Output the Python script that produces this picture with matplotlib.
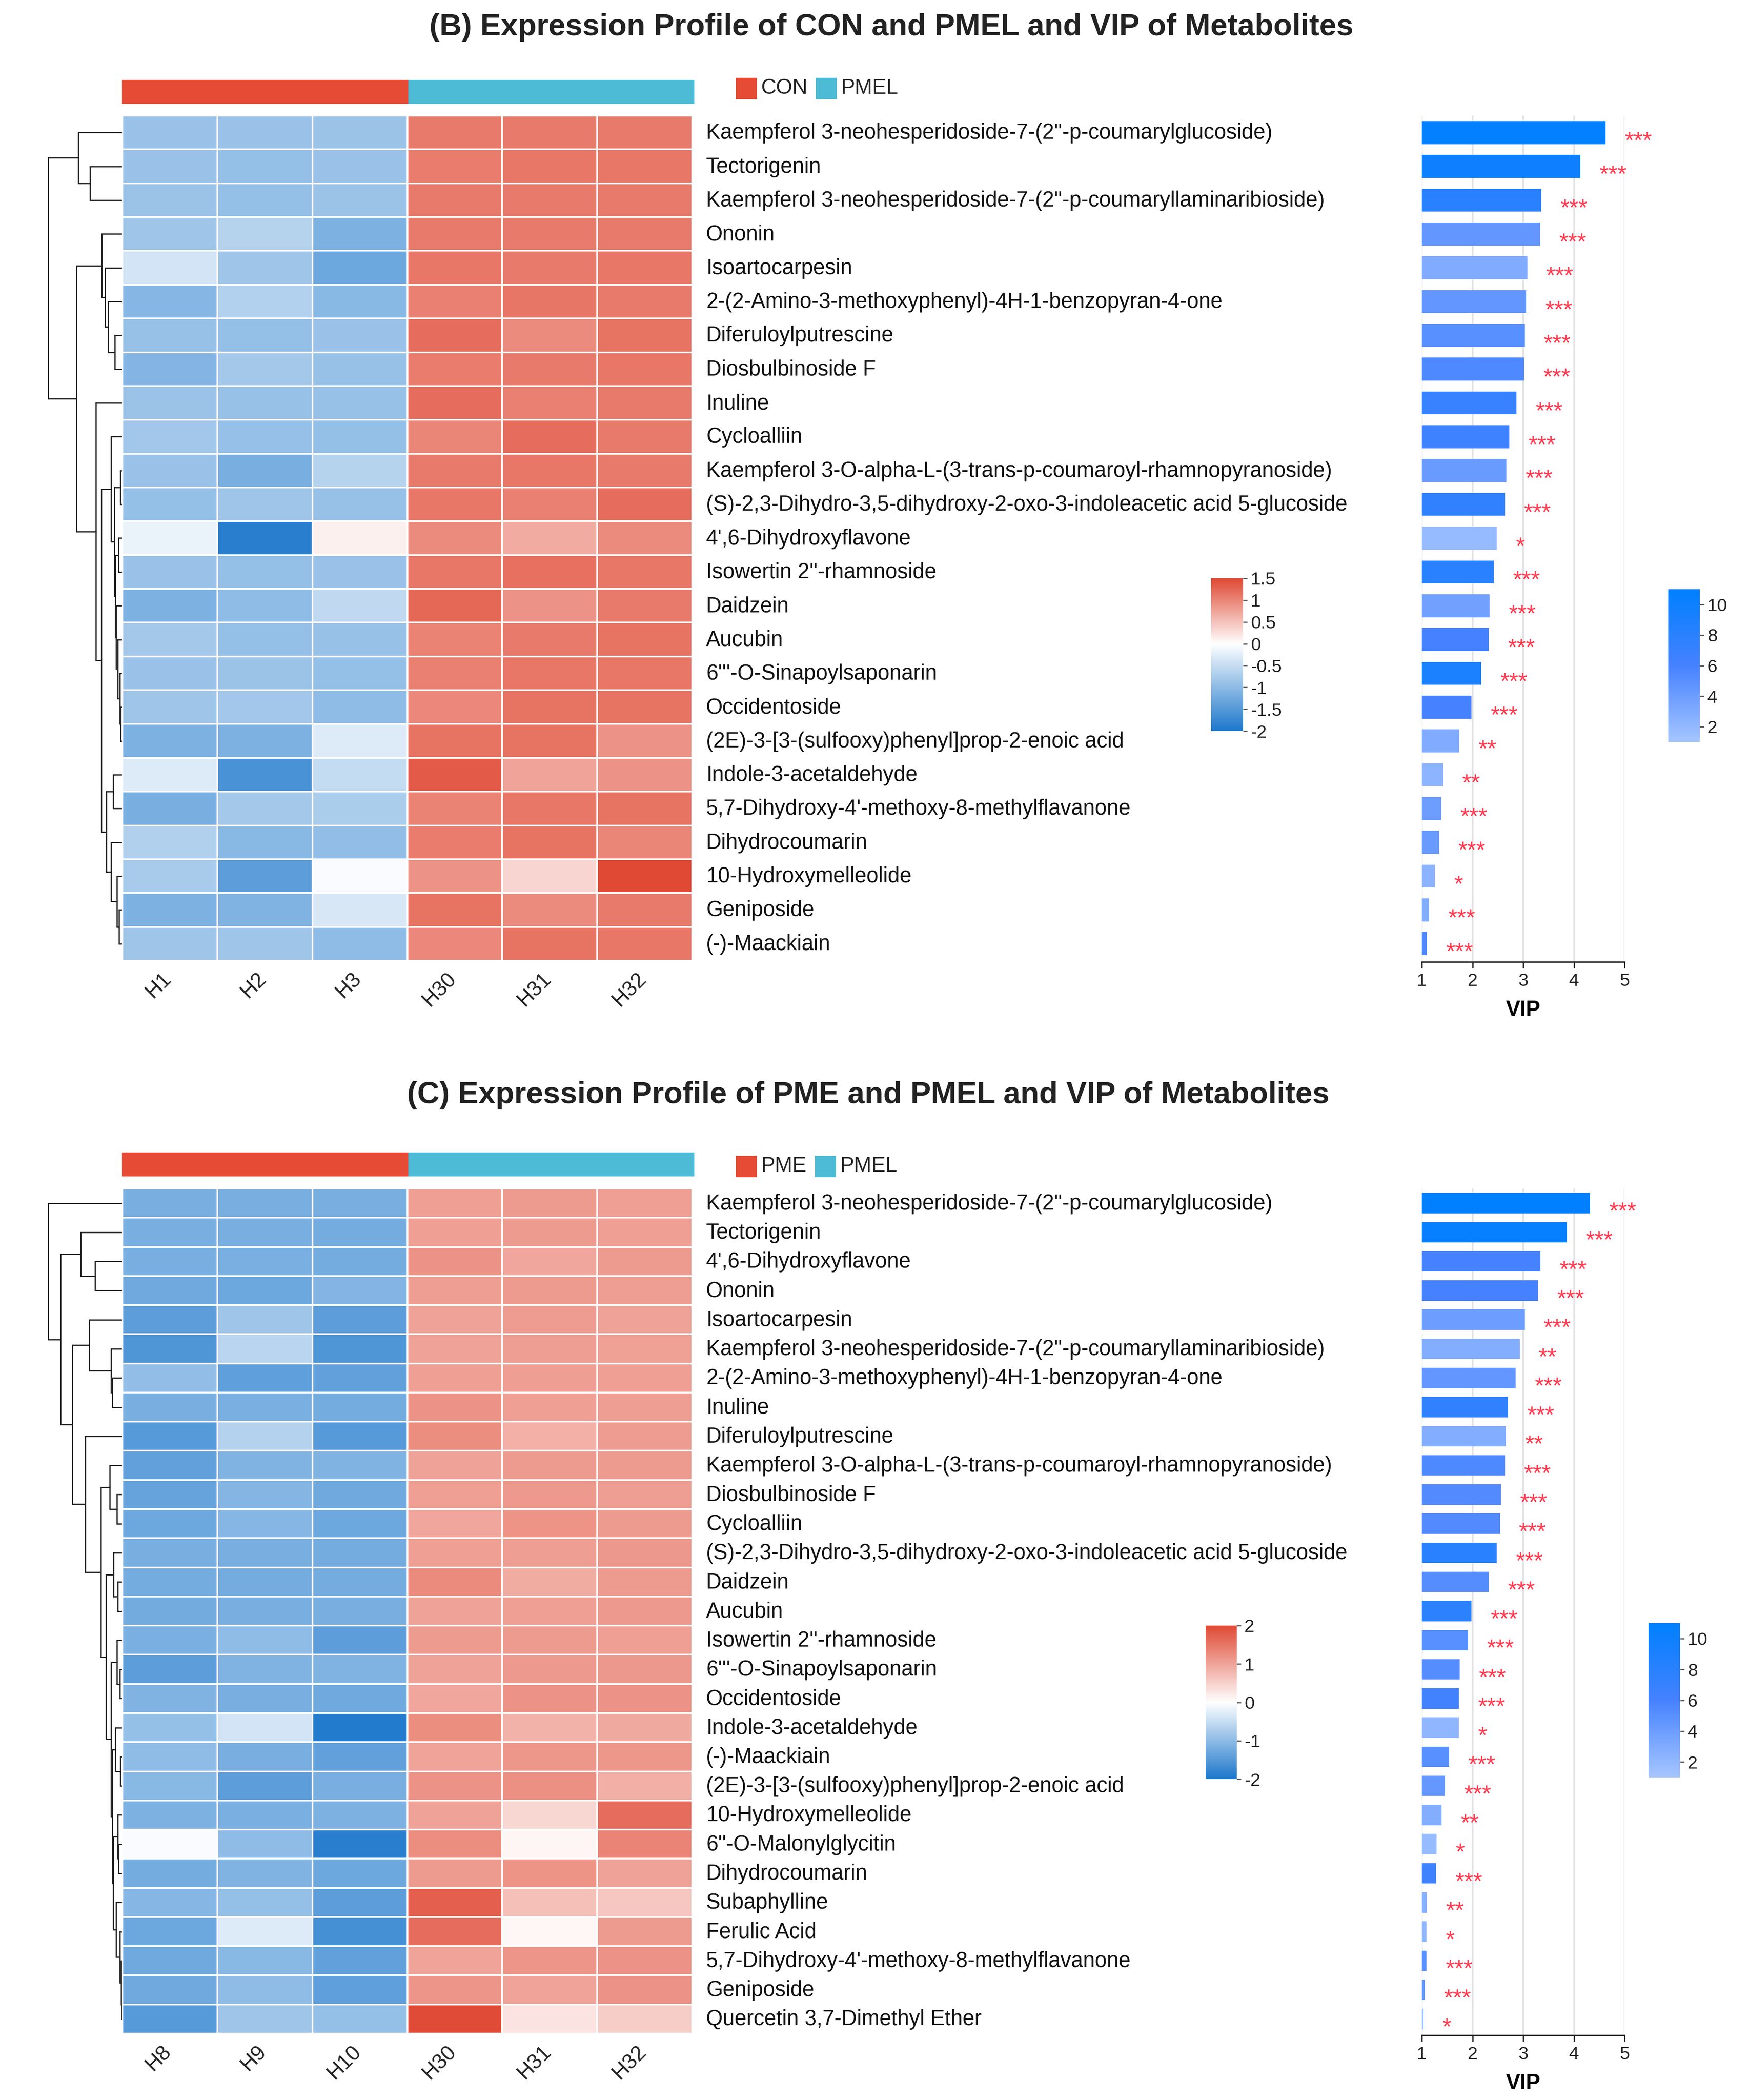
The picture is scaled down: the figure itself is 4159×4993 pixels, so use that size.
import numpy as np
import matplotlib
matplotlib.use("Agg")
import matplotlib.pyplot as plt
from matplotlib.colors import LinearSegmentedColormap, ListedColormap, TwoSlopeNorm, Normalize
from matplotlib.patches import Rectangle

W, H = 4159, 4993
plt.rcParams['font.family'] = ['Liberation Sans', 'DejaVu Sans']

# panel B
b_samples = ["H1", "H2", "H3", "H30", "H31", "H32"]
b_names = [
    "Kaempferol 3-neohesperidoside-7-(2''-p-coumarylglucoside)", "Tectorigenin",
    "Kaempferol 3-neohesperidoside-7-(2''-p-coumaryllaminaribioside)", "Ononin", "Isoartocarpesin",
    "2-(2-Amino-3-methoxyphenyl)-4H-1-benzopyran-4-one", "Diferuloylputrescine", "Diosbulbinoside F",
    "Inuline", "Cycloalliin", "Kaempferol 3-O-alpha-L-(3-trans-p-coumaroyl-rhamnopyranoside)",
    "(S)-2,3-Dihydro-3,5-dihydroxy-2-oxo-3-indoleacetic acid 5-glucoside", "4',6-Dihydroxyflavone",
    "Isowertin 2''-rhamnoside", "Daidzein", "Aucubin", "6'''-O-Sinapoylsaponarin", "Occidentoside",
    "(2E)-3-[3-(sulfooxy)phenyl]prop-2-enoic acid", "Indole-3-acetaldehyde",
    "5,7-Dihydroxy-4'-methoxy-8-methylflavanone", "Dihydrocoumarin", "10-Hydroxymelleolide",
    "Geniposide", "(-)-Maackiain",
]
b_expr = [
    [-0.90, -0.90, -0.88, 1.10, 1.10, 1.10],
    [-0.90, -0.95, -0.90, 1.08, 1.12, 1.12],
    [-0.88, -0.95, -0.88, 1.10, 1.10, 1.10],
    [-0.85, -0.65, -1.15, 1.10, 1.10, 1.10],
    [-0.40, -0.85, -1.30, 1.12, 1.10, 1.12],
    [-1.07, -0.68, -1.05, 1.05, 1.13, 1.10],
    [-0.92, -0.95, -0.90, 1.20, 0.95, 1.15],
    [-1.10, -0.80, -0.92, 1.08, 1.10, 1.12],
    [-0.88, -0.92, -0.92, 1.20, 1.05, 1.10],
    [-0.82, -0.93, -0.95, 1.00, 1.20, 1.10],
    [-0.90, -1.20, -0.65, 1.10, 1.12, 1.10],
    [-0.95, -0.85, -0.92, 1.12, 1.05, 1.20],
    [-0.18, -1.90, 0.12, 0.95, 0.70, 0.95],
    [-0.90, -0.95, -0.90, 1.12, 1.18, 1.12],
    [-1.15, -1.00, -0.55, 1.25, 0.90, 1.10],
    [-0.80, -0.95, -0.92, 1.02, 1.10, 1.15],
    [-0.90, -0.88, -0.95, 1.05, 1.12, 1.12],
    [-0.85, -0.82, -1.00, 0.98, 1.15, 1.15],
    [-1.15, -1.15, -0.30, 1.15, 1.15, 0.90],
    [-0.30, -1.60, -0.52, 1.35, 0.75, 0.90],
    [-1.20, -0.80, -0.75, 1.02, 1.12, 1.15],
    [-0.70, -1.05, -0.98, 1.08, 1.15, 1.00],
    [-0.78, -1.45, -0.05, 0.90, 0.35, 1.50],
    [-1.15, -1.12, -0.35, 1.15, 0.95, 1.10],
    [-0.85, -0.85, -1.00, 0.98, 1.15, 1.12],
]
b_vip = [4.63, 4.13, 3.36, 3.33, 3.08, 3.06, 3.03, 3.02, 2.87, 2.73, 2.67, 2.64, 2.48,
         2.42, 2.34, 2.32, 2.17, 1.98, 1.74, 1.42, 1.38, 1.34, 1.26, 1.14, 1.10]
b_fc = [10.8, 10, 8, 4.5, 3, 4.5, 5, 5.5, 7, 6.5, 4.2, 7.5, 1.8,
        8, 3.8, 6, 9, 6, 3, 2.3, 4, 4.2, 2.4, 2.8, 5.5]
b_stars = [3, 3, 3, 3, 3, 3, 3, 3, 3, 3, 3, 3, 1, 3, 3, 3, 3, 3, 2, 2, 3, 3, 1, 3, 3]
b_tree = (1.0,
          (.593, 0, (.432, 1, 2)),
          (.611,
           (.272, 3, (.228, 4, (.185, 5, (.099, 6, 7)))),
           (.352, 8,
            (.278,
             (.148, 9, (.105, (.025, 10, 11),
                        (.093, (.043, 12, 13), (.08, 14, (.056, 15, (.031, 16, (.019, 17, 18))))))),
             (.21, (.117, 19, 20), (.148, 21, (.068, 22, (.037, 23, 24))))))))

# panel C
c_samples = ["H8", "H9", "H10", "H30", "H31", "H32"]
c_names = [
    "Kaempferol 3-neohesperidoside-7-(2''-p-coumarylglucoside)", "Tectorigenin", "4',6-Dihydroxyflavone",
    "Ononin", "Isoartocarpesin", "Kaempferol 3-neohesperidoside-7-(2''-p-coumaryllaminaribioside)",
    "2-(2-Amino-3-methoxyphenyl)-4H-1-benzopyran-4-one", "Inuline", "Diferuloylputrescine",
    "Kaempferol 3-O-alpha-L-(3-trans-p-coumaroyl-rhamnopyranoside)", "Diosbulbinoside F", "Cycloalliin",
    "(S)-2,3-Dihydro-3,5-dihydroxy-2-oxo-3-indoleacetic acid 5-glucoside", "Daidzein", "Aucubin",
    "Isowertin 2''-rhamnoside", "6'''-O-Sinapoylsaponarin", "Occidentoside", "Indole-3-acetaldehyde",
    "(-)-Maackiain", "(2E)-3-[3-(sulfooxy)phenyl]prop-2-enoic acid", "10-Hydroxymelleolide",
    "6''-O-Malonylglycitin", "Dihydrocoumarin", "Subaphylline", "Ferulic Acid",
    "5,7-Dihydroxy-4'-methoxy-8-methylflavanone", "Geniposide", "Quercetin 3,7-Dimethyl Ether",
]
c_expr = [
    [-1.20, -1.20, -1.20, 1.05, 1.10, 1.05],
    [-1.20, -1.20, -1.22, 1.05, 1.10, 1.05],
    [-1.20, -1.18, -1.22, 1.20, 0.98, 1.10],
    [-1.28, -1.30, -1.10, 1.07, 1.10, 1.07],
    [-1.45, -0.85, -1.45, 1.03, 1.08, 1.03],
    [-1.55, -0.62, -1.55, 1.02, 1.07, 1.04],
    [-0.97, -1.42, -1.40, 1.05, 1.07, 1.05],
    [-1.20, -1.18, -1.22, 1.20, 1.05, 1.07],
    [-1.50, -0.67, -1.50, 1.25, 0.87, 1.08],
    [-1.40, -1.12, -1.12, 1.03, 1.10, 1.10],
    [-1.35, -1.08, -1.28, 1.05, 1.12, 1.07],
    [-1.30, -1.07, -1.30, 0.98, 1.18, 1.10],
    [-1.20, -1.20, -1.22, 1.05, 1.07, 1.13],
    [-1.22, -1.22, -1.22, 1.28, 0.92, 1.10],
    [-1.25, -1.20, -1.20, 1.03, 1.05, 1.12],
    [-1.18, -1.00, -1.45, 1.10, 1.10, 1.05],
    [-1.45, -1.12, -1.12, 1.03, 1.12, 1.13],
    [-1.12, -1.20, -1.28, 0.97, 1.20, 1.20],
    [-0.95, -0.40, -1.95, 1.25, 0.85, 0.95],
    [-1.00, -1.20, -1.40, 1.00, 1.15, 1.15],
    [-1.05, -1.45, -1.20, 1.20, 1.22, 0.88],
    [-1.15, -1.18, -1.15, 1.02, 0.45, 1.60],
    [-0.05, -1.00, -1.90, 1.25, 0.10, 1.35],
    [-1.22, -1.12, -1.30, 1.10, 1.18, 1.03],
    [-1.07, -0.95, -1.45, 1.75, 0.70, 0.62],
    [-1.30, -0.30, -1.65, 1.60, 0.08, 1.10],
    [-1.28, -1.05, -1.40, 1.00, 1.17, 1.20],
    [-1.27, -1.00, -1.42, 1.17, 1.00, 1.20],
    [-1.50, -0.85, -0.95, 1.98, 0.30, 0.55],
]
c_vip = [4.32, 3.86, 3.34, 3.29, 3.03, 2.93, 2.85, 2.70, 2.66, 2.64, 2.56, 2.54, 2.48, 2.32, 1.98,
         1.91, 1.75, 1.73, 1.73, 1.54, 1.46, 1.39, 1.29, 1.28, 1.10, 1.09, 1.09, 1.06, 1.03]
c_fc = [11, 10.5, 6, 6, 4, 2.8, 4.5, 7.5, 2.8, 5.5, 5.3, 5.3, 8, 5.2, 7.8,
        5, 5.2, 6.3, 2.2, 5, 4.4, 2.8, 1.8, 6.5, 2.6, 2.2, 5, 4.5, 1.6]
c_stars = [3, 3, 3, 3, 3, 2, 3, 3, 2, 3, 3, 3, 3, 3, 3, 3, 3, 3, 1, 3, 3, 2, 1, 3, 2, 1, 3, 3, 1]
c_tree = (1.0, 0,
          (.827,
           (.556, 1, (.364, 2, 3)),
           (.673,
            (.444, 4, (.148, 5, (.13, 6, 7))),
            (.494, 8,
             (.284,
              (.167, 9, (.068, 10, 11)),
              (.216,
               (.111, 12, (.056, 13, 14)),
               (.148,
                (.068, 15, (.031, 16, 17)),
                (.13,
                 (.093, 18, (.025, 19, 20)),
                 (.117,
                  (.056, 21, (.043, 22, 23)),
                  (.08, 24, (.031, 25, (.012, 26, (.006, 27, 28)))))))))))))

group_colors = ["#E64B35", "#4DBBD5"]
heat_cmap = LinearSegmentedColormap.from_list("heat", ["#1E78CC", "#FFFFFF", "#E04A35"])
vip_cmap = LinearSegmentedColormap.from_list("vip", ["#A6C6FF", "#4682FF", "#0080FF"])
fc_norm = Normalize(1, 11)

fig = plt.figure(figsize=(W / 100, H / 100), dpi=100, facecolor="white")


def px_axes(x0, y0, x1, y1):
    return fig.add_axes([x0 / W, 1 - y1 / H, (x1 - x0) / W, (y1 - y0) / H])


overlay = px_axes(0, 0, W, H)
overlay.set_xlim(0, W)
overlay.set_ylim(H, 0)
overlay.axis("off")


def draw_tree(ax, node):
    if not isinstance(node, tuple):
        return 0.0, node + 0.5
    d, left, right = node
    d1, y1 = draw_tree(ax, left)
    d2, y2 = draw_tree(ax, right)
    ax.plot([d1, d, d, d2], [y1, y1, y2, y2], color="#222222", lw=2.1, solid_joinstyle="miter")
    return d, (y1 + y2) / 2


def colorbar(x0, y0, x1, y1, cmap, norm, vmin, vmax, ticks, labels):
    cax = px_axes(x0, y0, x1, y1)
    grad = np.linspace(vmax, vmin, 400).reshape(-1, 1)
    cax.imshow(grad, cmap=cmap, norm=norm, aspect="auto", extent=[0, 1, vmin, vmax])
    cax.set_xticks([])
    cax.yaxis.tick_right()
    cax.set_yticks(ticks, labels)
    cax.tick_params(axis="y", length=7, width=2, color="#555555", labelsize=31, pad=6, labelcolor="#222222")
    for s in cax.spines.values():
        s.set_visible(False)


def panel(title, title_xy, groups, legend_x, legend_y, samples, names, expr, vip, fc, stars, tree,
          ann_y, top, bottom, axis_y, bar_h, hnorm, hbar, hticks, vbar):
    n = len(names)
    # annotation strip
    ann = px_axes(290, ann_y[0], 1651, ann_y[1])
    ann.pcolormesh([[0, 0, 0, 1, 1, 1]], cmap=ListedColormap(group_colors), vmin=0, vmax=1)
    ann.axis("off")

    # heatmap
    ax = px_axes(291, top, 1646, bottom)
    ax.pcolormesh(np.array(expr), cmap=heat_cmap, norm=hnorm, edgecolors="white", linewidth=2.8)
    ax.set_xlim(0, 6)
    ax.set_ylim(n, 0)
    ax.set_yticks([])
    ax.set_xticks([])
    for s in ax.spines.values():
        s.set_visible(False)
    for i, name in enumerate(names):
        ax.annotate(name, (6, i + 0.5), xytext=(33, -15), textcoords="offset pixels",
                    va="baseline", ha="left", fontsize=36.6, color="#111111", annotation_clip=False)
    for j, s in enumerate(samples):
        ax.annotate(s, (j + 0.5, n), xytext=(-4, -36), textcoords="offset pixels", rotation=45,
                    rotation_mode="anchor", ha="right", va="center", fontsize=36,
                    color="#222222", annotation_clip=False)

    # dendrogram
    den = px_axes(114, top, 290, bottom)
    draw_tree(den, tree)
    den.set_xlim(1, 0)
    den.set_ylim(n, 0)
    den.axis("off")

    # VIP bars
    row_h = (bottom - top) / n
    bx = px_axes(3381, top, 3863, axis_y)
    pos = np.arange(n) + 0.5
    bx.barh(pos, np.array(vip) - 1, left=1, height=bar_h, color=vip_cmap(fc_norm(np.array(fc))), zorder=3)
    bx.set_xlim(1, 5)
    bx.set_ylim((axis_y - top) / row_h, 0)
    bx.set_yticks([])
    bx.set_xticks([1, 2, 3, 4, 5])
    bx.grid(axis="x", color="#E2E2E2", lw=2.6, zorder=0)
    bx.set_axisbelow(True)
    for s in ["top", "left", "right"]:
        bx.spines[s].set_visible(False)
    bx.spines["bottom"].set_linewidth(2.4)
    bx.spines["bottom"].set_color("#222222")
    bx.tick_params(axis="x", length=11, width=2.2, labelsize=31, pad=8, color="#222222", labelcolor="#222222")
    bx.set_xlabel("VIP", fontsize=37, fontweight="bold", labelpad=17)
    for p, v, st in zip(pos, vip, stars):
        bx.annotate("*" * st, (v, p), xytext=(45, -22), textcoords="offset pixels", ha="left", va="center",
                    fontsize=40, color="#FF3B50", annotation_clip=False)

    # colorbars
    colorbar(*hbar, heat_cmap, hnorm, hnorm.vmin, hnorm.vmax, hticks, [f"{t:g}" for t in hticks])
    colorbar(*vbar, vip_cmap, fc_norm, 1, 11, [2, 4, 6, 8, 10], ["2", "4", "6", "8", "10"])

    # title and group legend
    overlay.text(title_xy[0], title_xy[1], title, ha="center", va="center", fontsize=52.4,
                 fontweight="bold", color="#222222")
    for lx, lab, col in zip(legend_x, groups, group_colors):
        overlay.add_patch(Rectangle((lx, legend_y - 25), 50, 51, color=col, lw=0))
        overlay.text(lx + 60, legend_y, lab, ha="left", va="center", fontsize=36, color="#222222")


panel("(B) Expression Profile of CON and PMEL and VIP of Metabolites", (2120, 65),
      ["CON", "PMEL"], [1750, 1940], 210, b_samples, b_names, b_expr, b_vip, b_fc, b_stars, b_tree,
      (190, 247), 275, 2284, 2287, 0.68, TwoSlopeNorm(0, -2, 1.5),
      (2880, 1375, 2956, 1738), [-2, -1.5, -1, -0.5, 0, 0.5, 1, 1.5], (3967, 1401, 4042, 1764))
panel("(C) Expression Profile of PME and PMEL and VIP of Metabolites", (2065, 2604),
      ["PME", "PMEL"], [1750, 1938], 2773, c_samples, c_names, c_expr, c_vip, c_fc, c_stars, c_tree,
      (2740, 2797), 2826, 4835, 4839, 0.7, TwoSlopeNorm(0, -2, 2),
      (2867, 3865, 2941, 4230), [-2, -1, 0, 1, 2], (3920, 3859, 3995, 4226))

fig.savefig("out.png", dpi=100)
